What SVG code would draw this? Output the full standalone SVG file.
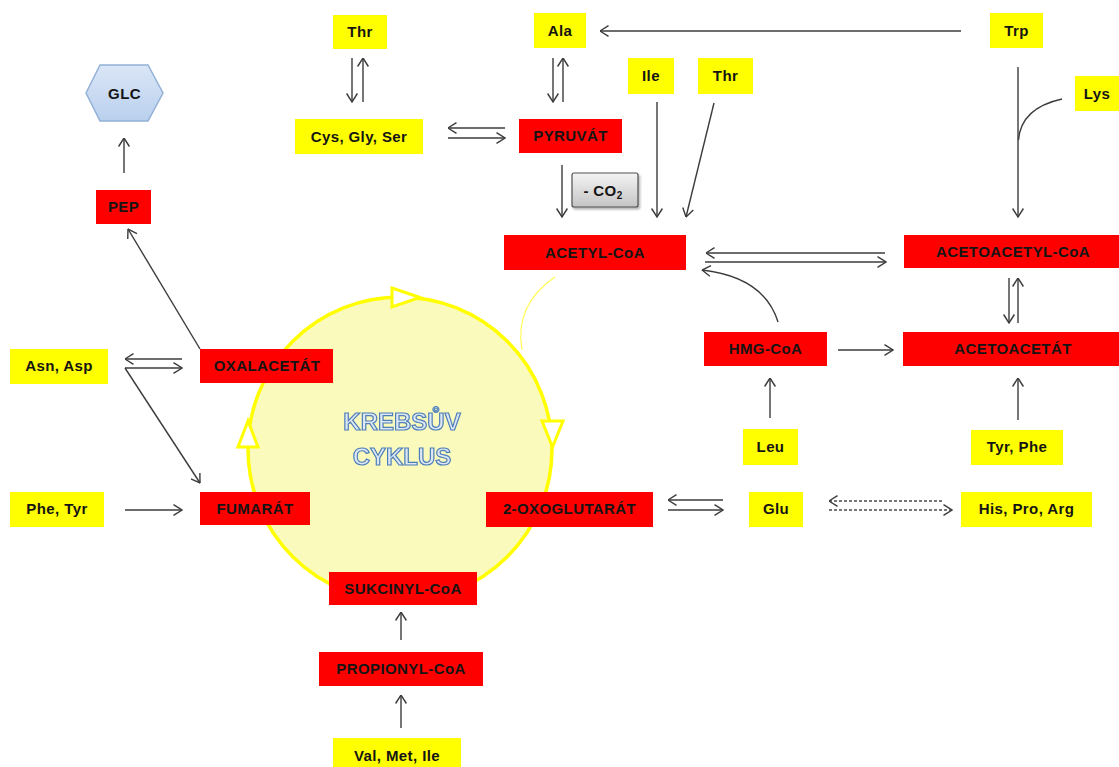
<svg xmlns="http://www.w3.org/2000/svg" width="1119" height="767" viewBox="0 0 1119 767">
  <defs>
    <style>
      .lbl { font-family: "Liberation Sans", Arial, sans-serif; font-weight: bold; font-size: 15px; letter-spacing: 0.4px; fill: #141414; text-anchor: middle; }
      .aa { fill: #ffff00; }
      .met { fill: #ff0000; }
      .ln { fill: none; stroke: #3c3c3c; stroke-width: 1.4; marker-end: url(#vh); }
      .dash { fill: none; stroke: #4a4a4a; stroke-width: 1.3; stroke-dasharray: 3 2; marker-end: url(#vh); }
      .cyc { fill: #ffffff; stroke: #ffff00; stroke-width: 3; stroke-linejoin: miter; }
      .krebs { font-family: "Liberation Sans", Arial, sans-serif; font-weight: bold; font-size: 24px; fill: #dde8f4; stroke: #4f7fb8; stroke-width: 1.2; text-anchor: middle; }
    </style>
    <marker id="vh" viewBox="0 0 10 12" refX="9.5" refY="6" markerWidth="10" markerHeight="12" markerUnits="userSpaceOnUse" orient="auto">
      <path d="M1,0.6 L9.5,6 L1,11.4" fill="none" stroke="#3c3c3c" stroke-width="1.4"/>
    </marker>
    <linearGradient id="hexFill" x1="0" y1="0" x2="0" y2="1">
      <stop offset="0" stop-color="#dbe6f6"/>
      <stop offset="1" stop-color="#b9d0ee"/>
    </linearGradient>
    <linearGradient id="boxFill" x1="0" y1="0" x2="0" y2="1">
      <stop offset="0" stop-color="#f4f4f4"/>
      <stop offset="1" stop-color="#c4c4c4"/>
    </linearGradient>
    <filter id="shadow" x="-10%" y="-10%" width="130%" height="140%">
      <feDropShadow dx="1.5" dy="2" stdDeviation="1.2" flood-color="#000" flood-opacity="0.3"/>
    </filter>
    <filter id="glow" x="-10%" y="-20%" width="120%" height="140%">
      <feGaussianBlur stdDeviation="0.4"/>
    </filter>
  </defs>

  <rect width="1119" height="767" fill="#ffffff"/>

  <!-- Krebs cycle ring -->
  <g id="krebs-cycle">
    <circle cx="400" cy="449" r="152" fill="#fafabc" stroke="#ffff00" stroke-width="3.5"/>
    <polygon class="cyc" points="392,288 420,297.5 392,307"/>
    <polygon class="cyc" points="542,421 563,421 552.5,447" fill="#fbfbd0"/>
    <polygon class="cyc" points="238,447 258,447 248,421" fill="#fbfbd0"/>
    <path d="M555,277 Q514,305 522,350" fill="none" stroke="#ffff55" stroke-width="1.2"/>
    <g filter="url(#glow)">
      <text class="krebs" x="402" y="430">KREBSŮV</text>
      <text class="krebs" x="402" y="465">CYKLUS</text>
    </g>
  </g>

  <!-- connectors -->
  <g id="connectors">
    <!-- PEP -> GLC -->
    <path class="ln" d="M124,173 L124,138"/>
    <!-- OXALACETAT -> PEP -->
    <path class="ln" d="M200,349 L128,229"/>
    <!-- Thr <-> Cys, Gly, Ser -->
    <path class="ln" d="M352,58 L352,102"/>
    <path class="ln" d="M363,102 L363,58"/>
    <!-- Ala <-> PYRUVAT -->
    <path class="ln" d="M553,58 L553,102"/>
    <path class="ln" d="M563,102 L563,58"/>
    <!-- Cys, Gly, Ser <-> PYRUVAT -->
    <path class="ln" d="M505,128 L448,128"/>
    <path class="ln" d="M448,138 L505,138"/>
    <!-- PYRUVAT -> ACETYL-CoA -->
    <path class="ln" d="M562,165 L562,217"/>
    <!-- Ile -> ACETYL-CoA -->
    <path class="ln" d="M657,102 L657,217"/>
    <!-- Thr -> ACETYL-CoA -->
    <path class="ln" d="M714,103 L686,217"/>
    <!-- Trp -> Ala -->
    <path class="ln" d="M961,31 L600,31"/>
    <!-- Trp -> ACETOACETYL-CoA -->
    <path class="ln" d="M1018,67 L1018,217"/>
    <!-- Lys joins the Trp line -->
    <path d="M1062,99 Q1021,108 1018.5,140" fill="none" stroke="#3c3c3c" stroke-width="1.4"/>
    <!-- ACETYL-CoA <-> ACETOACETYL-CoA -->
    <path class="ln" d="M885,253 L706,253"/>
    <path class="ln" d="M705,262 L886,262"/>
    <!-- HMG-CoA -> ACETYL-CoA -->
    <path class="ln" d="M778,322 Q764,277 702,270"/>
    <!-- HMG-CoA -> ACETOACETAT -->
    <path class="ln" d="M838,350 L893,350"/>
    <!-- Leu -> HMG-CoA -->
    <path class="ln" d="M770,418 L770,378"/>
    <!-- ACETOACETYL-CoA <-> ACETOACETAT -->
    <path class="ln" d="M1009,278 L1009,323"/>
    <path class="ln" d="M1018,323 L1018,278"/>
    <!-- Tyr, Phe -> ACETOACETAT -->
    <path class="ln" d="M1018,420 L1018,378"/>
    <!-- Asn, Asp <-> OXALACETAT -->
    <path class="ln" d="M182,359 L125,359"/>
    <path class="ln" d="M125,368 L182,368"/>
    <!-- Asn, Asp -> FUMARAT -->
    <path class="ln" d="M125,368 L200,483"/>
    <!-- Phe, Tyr -> FUMARAT -->
    <path class="ln" d="M125,510 L182,510"/>
    <!-- 2-OXOGLUTARAT <-> Glu -->
    <path class="ln" d="M723,500 L668,500"/>
    <path class="ln" d="M668,510 L723,510"/>
    <!-- Glu <-> His, Pro, Arg (dashed) -->
    <path class="dash" d="M942,501 L829,501"/>
    <path class="dash" d="M829,510 L952,510"/>
    <!-- PROPIONYL-CoA -> SUKCINYL-CoA -->
    <path class="ln" d="M401,640 L401,612"/>
    <!-- Val, Met, Ile -> PROPIONYL-CoA -->
    <path class="ln" d="M401,728 L401,695"/>
  </g>

  <!-- nodes -->
  <g id="glc">
    <polygon points="86,93 100,65 148,65 163,93 148,121 100,121" fill="url(#hexFill)" stroke="#93b1d8" stroke-width="1.5"/>
    <text class="lbl" x="124.5" y="99">GLC</text>
  </g>
  <g id="pep"><rect class="met" x="96" y="190" width="55" height="34"/><text class="lbl" x="123.5" y="212">PEP</text></g>
  <g id="thr-top"><rect class="aa" x="333" y="15" width="54" height="34"/><text class="lbl" x="360" y="37">Thr</text></g>
  <g id="ala"><rect class="aa" x="534" y="13" width="52" height="35"/><text class="lbl" x="560" y="36">Ala</text></g>
  <g id="trp"><rect class="aa" x="990" y="13" width="53" height="35"/><text class="lbl" x="1016.5" y="36">Trp</text></g>
  <g id="ile"><rect class="aa" x="628" y="58" width="46" height="36"/><text class="lbl" x="651" y="81">Ile</text></g>
  <g id="thr"><rect class="aa" x="698" y="58" width="55" height="36"/><text class="lbl" x="725.5" y="81">Thr</text></g>
  <g id="lys"><rect class="aa" x="1075" y="76" width="44" height="35"/><text class="lbl" x="1097" y="99">Lys</text></g>
  <g id="cys-gly-ser"><rect class="aa" x="295" y="119" width="128" height="35"/><text class="lbl" x="359" y="142">Cys, Gly, Ser</text></g>
  <g id="pyruvat"><rect class="met" x="519" y="119" width="103" height="34"/><text class="lbl" x="570.5" y="141">PYRUVÁT</text></g>
  <g id="co2">
    <rect x="572" y="173" width="66" height="34" rx="2" fill="url(#boxFill)" stroke="#505050" stroke-width="1.2" filter="url(#shadow)"/>
    <text class="lbl" x="603" y="196">- CO<tspan font-size="10" dy="3">2</tspan></text>
  </g>
  <g id="acetyl-coa"><rect class="met" x="504" y="235" width="182" height="35"/><text class="lbl" x="595" y="258">ACETYL-CoA</text></g>
  <g id="acetoacetyl-coa"><rect class="met" x="904" y="235" width="215" height="33"/><text class="lbl" x="1013" y="257">ACETOACETYL-CoA</text></g>
  <g id="hmg-coa"><rect class="met" x="704" y="332" width="123" height="34"/><text class="lbl" x="765.5" y="354">HMG-CoA</text></g>
  <g id="acetoacetat"><rect class="met" x="903" y="332" width="216" height="34"/><text class="lbl" x="1013" y="354">ACETOACETÁT</text></g>
  <g id="leu"><rect class="aa" x="743" y="429" width="55" height="36"/><text class="lbl" x="770.5" y="452">Leu</text></g>
  <g id="tyr-phe"><rect class="aa" x="971" y="430" width="92" height="35"/><text class="lbl" x="1017" y="452">Tyr, Phe</text></g>
  <g id="asn-asp"><rect class="aa" x="10" y="349" width="98" height="35"/><text class="lbl" x="59" y="371">Asn, Asp</text></g>
  <g id="oxalacetat"><rect class="met" x="200" y="349" width="133" height="34"/><text class="lbl" x="267" y="371">OXALACETÁT</text></g>
  <g id="phe-tyr"><rect class="aa" x="10" y="492" width="94" height="35"/><text class="lbl" x="57" y="514">Phe, Tyr</text></g>
  <g id="fumarat"><rect class="met" x="200" y="492" width="110" height="33"/><text class="lbl" x="255" y="514">FUMARÁT</text></g>
  <g id="oxoglutarat"><rect class="met" x="486" y="492" width="167" height="35"/><text class="lbl" x="569.5" y="514">2-OXOGLUTARÁT</text></g>
  <g id="glu"><rect class="aa" x="749" y="492" width="54" height="35"/><text class="lbl" x="776" y="514">Glu</text></g>
  <g id="his-pro-arg"><rect class="aa" x="961" y="492" width="131" height="35"/><text class="lbl" x="1026.5" y="514">His, Pro, Arg</text></g>
  <g id="sukcinyl-coa"><rect class="met" x="329" y="572" width="148" height="33"/><text class="lbl" x="403" y="594">SUKCINYL-CoA</text></g>
  <g id="propionyl-coa"><rect class="met" x="319" y="652" width="164" height="34"/><text class="lbl" x="401" y="674">PROPIONYL-CoA</text></g>
  <g id="val-met-ile"><rect class="aa" x="333" y="738" width="128" height="30"/><text class="lbl" x="397" y="761">Val, Met, Ile</text></g>
</svg>
